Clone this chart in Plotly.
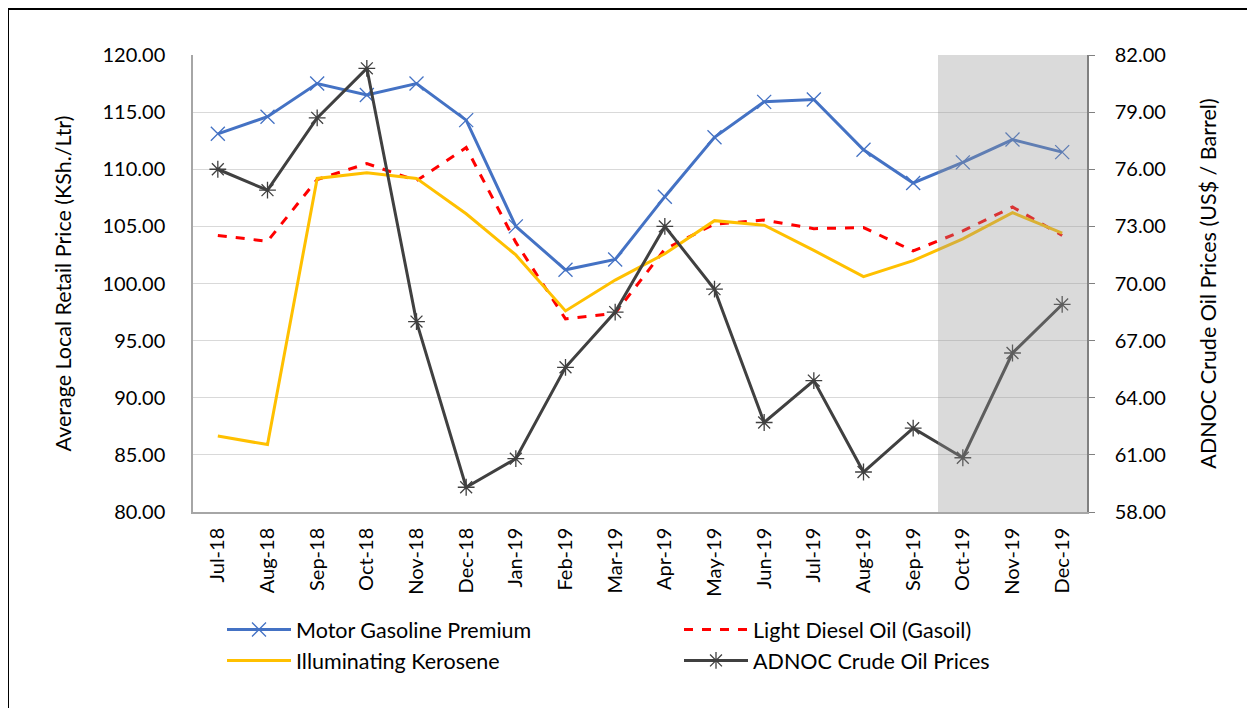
import plotly.graph_objects as go

months = ["Jul-18", "Aug-18", "Sep-18", "Oct-18", "Nov-18", "Dec-18", "Jan-19", "Feb-19", "Mar-19",
          "Apr-19", "May-19", "Jun-19", "Jul-19", "Aug-19", "Sep-19", "Oct-19", "Nov-19", "Dec-19"]
gasoline = [113.1, 114.6, 117.5, 116.5, 117.5, 114.3, 105.0, 101.2, 102.1,
            107.6, 112.8, 115.9, 116.1, 111.7, 108.8, 110.6, 112.6, 111.5]
diesel = [104.2, 103.7, 109.1, 110.5, 109.0, 111.9, 103.6, 96.9, 97.4,
          103.0, 105.2, 105.55, 104.8, 104.9, 102.85, 104.6, 106.7, 104.2]
kerosene = [86.65, 85.9, 109.2, 109.7, 109.2, 106.1, 102.5, 97.6, 100.3,
            102.6, 105.5, 105.1, 102.9, 100.6, 102.0, 103.9, 106.2, 104.4]
adnoc = [76.0, 74.9, 78.7, 81.3, 68.0, 59.3, 60.8, 65.6, 68.5,
         73.0, 69.7, 62.7, 64.9, 60.1, 62.4, 60.85, 66.35, 68.9]
left_ticks = [80, 85, 90, 95, 100, 105, 110, 115, 120]
right_ticks = [58, 61, 64, 67, 70, 73, 76, 79, 82]

FONT = "Lato"

# the page body adds an 8px offset, so the figure is drawn 8px smaller / shifted
OFF = 8
W, H = 1255 - OFF, 708 - OFF
L, R, T, B = 193 - OFF, 1087 - OFF, 55 - OFF, 512 - OFF
pw, ph = R - L, B - T


def px_x(p):
    return (p - OFF - L) / pw


def px_y(p):
    return (B - (p - OFF)) / ph


def fig_x(f):
    return (f - L) / pw


def fig_y(f):
    return (B - f) / ph


fig = go.Figure()
fig.add_trace(go.Scatter(x=months, y=gasoline, name="Motor Gasoline Premium", mode="lines+markers",
                         legend="legend", legendgroup="g1",
                         line=dict(color="#4472C4", width=3),
                         marker=dict(symbol="x-thin-open", size=14, line=dict(color="#4472C4", width=1.3))))
fig.add_trace(go.Scatter(x=months, y=diesel, name="Light Diesel Oil (Gasoil)", mode="lines",
                         legend="legend2", legendgroup="g2",
                         line=dict(color="#FF0000", width=3, dash="dash")))
fig.add_trace(go.Scatter(x=months, y=kerosene, name="Illuminating Kerosene", mode="lines",
                         legend="legend", legendgroup="g3",
                         line=dict(color="#FFC000", width=3)))
fig.add_trace(go.Scatter(x=months, y=adnoc, name="ADNOC Crude Oil Prices", mode="lines+markers", yaxis="y2",
                         legend="legend2", legendgroup="g4",
                         line=dict(color="#404040", width=3),
                         marker=dict(symbol="asterisk-open", size=14, line=dict(color="#A5A5A5", width=1.3))))

# grey overlay on the last quarter
fig.add_shape(type="rect", xref="x", yref="paper", x0=14.5, x1=17.5, y0=0, y1=1,
              fillcolor="rgba(150,150,150,0.35)", line=dict(width=0), layer="above")

# outer chart border (top and left edges visible in the frame)
fig.add_shape(type="line", xref="paper", yref="paper",
              x0=fig_x(0), x1=fig_x(W), y0=fig_y(1), y1=fig_y(1),
              line=dict(color="#000000", width=2), layer="above")
fig.add_shape(type="line", xref="paper", yref="paper",
              x0=fig_x(0.5), x1=fig_x(0.5), y0=fig_y(0), y1=fig_y(H),
              line=dict(color="#000000", width=1), layer="above")

legend_common = dict(orientation="v", xanchor="left", yanchor="top", y=px_y(609),
                     font=dict(size=21.5, family=FONT), itemwidth=64, tracegroupgap=0,
                     bgcolor="rgba(0,0,0,0)")

fig.update_layout(
    width=W, height=H,
    margin=dict(l=L, r=W - R, t=T, b=H - B, autoexpand=False),
    paper_bgcolor="white", plot_bgcolor="white",
    font=dict(family=FONT, size=20, color="#000000"),
    xaxis=dict(type="category", range=[-0.5, 17.5], tickangle=-90, showgrid=False,
               showline=True, linecolor="#A6A6A6", linewidth=1.5, ticks="", ticklabelstandoff=6,
               tickfont=dict(size=20, family=FONT)),
    yaxis=dict(range=[80, 120], tickvals=left_ticks, tickformat=".2f", showgrid=True,
               gridcolor="#D9D9D9", gridwidth=1.3, showline=True, linecolor="#A6A6A6", linewidth=1.5,
               zeroline=False, ticks="", ticklabelstandoff=22,
               title=dict(text="Average Local Retail Price (KSh./Ltr)", font=dict(size=21.5, family=FONT), standoff=25),
               tickfont=dict(size=20, family=FONT)),
    yaxis2=dict(range=[58, 82], tickvals=right_ticks, tickformat=".2f", overlaying="y", side="right",
                showgrid=False, showline=True, linecolor="#808080", linewidth=1.5, zeroline=False,
                ticks="outside", ticklen=6, tickcolor="#808080", ticklabelstandoff=16,
                title=dict(text="ADNOC Crude Oil Prices (US$ / Barrel)", font=dict(size=21.5, family=FONT), standoff=36),
                tickfont=dict(size=20, family=FONT)),
    legend=dict(x=px_x(222), **legend_common),
    legend2=dict(x=px_x(679), **legend_common),
    showlegend=True,
)

fig.write_html("out.html")
